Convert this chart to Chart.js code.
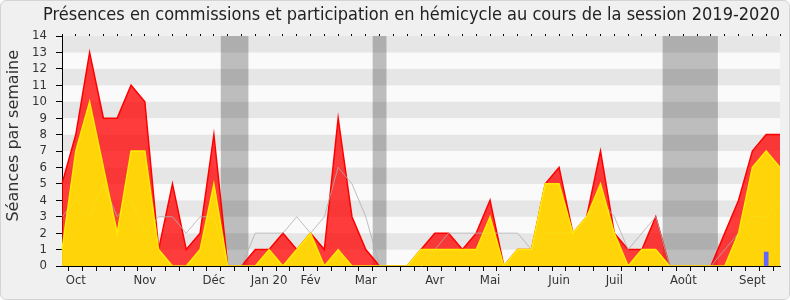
<!DOCTYPE html>
<html lang="fr">
  <head>
    <meta charset="UTF-8" />
    <title>Présences 2019-2020</title>
    <script src="https://cdn.jsdelivr.net/npm/chart.js"></script>
    <style>
      body {
        margin: 0;
        background: #fff;
      }
      .chart-box {
        width: 788px;
        height: 298px;
        border: 1px solid #d4d4d4;
        border-radius: 6px;
        background: #f0f0f0;
      }
    </style>
  </head>
  <body>
    <div class="chart-box">
      <canvas id="myChart" width="788" height="298"></canvas>
    </div>
    <script>
      // semaines de la session (index 0 = fin septembre 2019)
      const weeks = [
        0, 1, 2, 3, 4, 5, 6, 7, 8, 9, 10, 11, 12, 13, 14, 15, 16, 17, 18, 19,
        20, 21, 22, 23, 24, 25, 26, 27, 28, 29, 30, 31, 32, 33, 34, 35, 36, 37,
        38, 39, 40, 41, 42, 43, 44, 45, 46, 47, 48, 49, 50, 51, 52,
      ];
      // total (zone rouge)
      const total = [
        5, 8, 13, 9, 9, 11, 10, 1, 5, 1, 2, 8, 0, 0, 1, 1, 2, 1, 2, 1, 9, 3, 1,
        0, 0, 0, 1, 2, 2, 1, 2, 4, 0, 1, 1, 5, 6, 2, 3, 7, 2, 1, 1, 3, 0, 0, 0,
        0, 2, 4, 7, 8, 8,
      ];
      // commissions (zone jaune)
      const commissions = [
        1, 7, 10, 6, 2, 7, 7, 1, 0, 0, 1, 5, 0, 0, 0, 1, 0, 1, 2, 0, 1, 0, 0,
        0, 0, 0, 1, 1, 1, 1, 1, 3, 0, 1, 1, 5, 5, 2, 3, 5, 2, 0, 1, 1, 0, 0, 0,
        0, 0, 2, 6, 7, 6,
      ];
      // médiane des députés (ligne grise)
      const mediane = [
        3, 4, 3, 5, 3, 4, 2, 3, 3, 2, 3, 3, 0, 0, 2, 2, 2, 3, 2, 3, 6, 5, 3,
        0, 0, 0, 0, 1, 2, 2, 2, 2, 2, 2, 1, 2, 2, 2, 3, 4, 3, 1, 2, 3, 0, 0, 0,
        0, 1, 2, 3, 3, 4,
      ];
      // barre bleue
      const questions = [];
      questions[51] = 0.85;

      const monthWeeks = [1, 6, 11, 15, 18, 22, 27, 31, 36, 40, 45, 50];
      const monthLabels = ["Oct", "Nov", "Déc", "Jan 20", "Fév", "Mar", "Avr", "Mai", "Juin", "Juil", "Août", "Sept"];
      const vacances = [
        [11.5, 13.5],
        [22.5, 23.5],
        [43.5, 47.5],
      ];

      Chart.defaults.font.family = "'DejaVu Sans Condensed', 'DejaVu Sans'";
      Chart.defaults.color = "#333";

      // bandes grises horizontales + vacances parlementaires
      const fond = {
        id: "fond",
        beforeDraw(chart) {
          const { ctx, chartArea: a, scales } = chart;
          const x = scales.x;
          const y = scales.y;
          ctx.save();
          for (let v = 0; v < 14; v++) {
            ctx.fillStyle = v % 2 ? "#e6e6e6" : "#fafafa";
            const top = y.getPixelForValue(v + 1);
            const bot = y.getPixelForValue(v);
            ctx.fillRect(a.left, top, a.right - a.left, bot - top);
          }
          ctx.fillStyle = "rgba(0,0,0,0.245)";
          vacances.forEach(function (v) {
            const x0 = x.getPixelForValue(v[0]);
            const x1 = x.getPixelForValue(v[1]);
            ctx.fillRect(x0, a.top, x1 - x0, a.bottom - a.top);
          });
          ctx.restore();
        },
      };

      const ctx = document.getElementById("myChart");
      const myChart = new Chart(ctx, {
        type: "line",
        data: {
          labels: weeks,
          datasets: [
            {
              type: "bar",
              data: questions,
              backgroundColor: "#6464ff",
              barThickness: 4,
              order: 0,
            },
            {
              data: commissions,
              borderColor: "rgba(255,240,0,0.95)",
              backgroundColor: "rgba(255,229,4,0.9)",
              borderWidth: 1.5,
              pointRadius: 0,
              fill: "origin",
              order: 1,
            },
            {
              data: mediane,
              borderColor: "rgba(175,175,175,0.8)",
              borderWidth: 1,
              pointRadius: 0,
              fill: false,
              order: 2,
            },
            {
              data: total,
              borderColor: "#ff0000",
              backgroundColor: "rgba(255,0,0,0.76)",
              borderWidth: 1.5,
              pointRadius: 0,
              fill: "origin",
              order: 3,
            },
          ],
        },
        options: {
          responsive: false,
          animation: false,
          devicePixelRatio: 1,
          layout: { padding: { left: 0, right: 9, top: 0, bottom: 0 } },
          plugins: {
            legend: { display: false },
            tooltip: { enabled: false },
            title: {
              display: true,
              align: "end",
              text: "Présences en commissions et participation en hémicycle au cours de la session 2019-2020",
              color: "#222",
              font: { size: 18, weight: "normal" },
              padding: { top: 4, bottom: 7.4 },
            },
          },
          scales: {
            x: {
              type: "category",
              offset: false,
              grid: { drawOnChartArea: false, color: "#000", tickLength: 5 },
              border: { color: "#000" },
              ticks: {
                autoSkip: false,
                maxRotation: 0,
                padding: 2,
                font: { size: 13 },
                callback: function (v, i) {
                  const k = monthWeeks.indexOf(i);
                  return k < 0 ? "" : monthLabels[k];
                },
              },
              afterFit: function (s) {
                s.height = 33;
              },
            },
            x2: {
              type: "category",
              position: "top",
              offset: false,
              grid: { drawOnChartArea: false, color: "#000", tickLength: 2 },
              border: { display: false },
              ticks: { display: false },
              afterFit: function (s) {
                s.height = 2;
              },
            },
            y: {
              min: 0,
              max: 14,
              grid: { drawOnChartArea: false, color: "#000", tickLength: 6 },
              border: { color: "#000" },
              ticks: { stepSize: 1, autoSkip: false, padding: 9, font: { size: 13 } },
              title: {
                display: true,
                // espaces en tête : remonte légèrement le libellé
                text: "      Séances par semaine",
                font: { family: "'DejaVu Sans'", size: 16 },
                padding: { top: 3, bottom: 0 },
              },
              afterFit: function (s) {
                s.width = 61;
              },
            },
          },
        },
        plugins: [fond],
      });
    </script>
  </body>
</html>
